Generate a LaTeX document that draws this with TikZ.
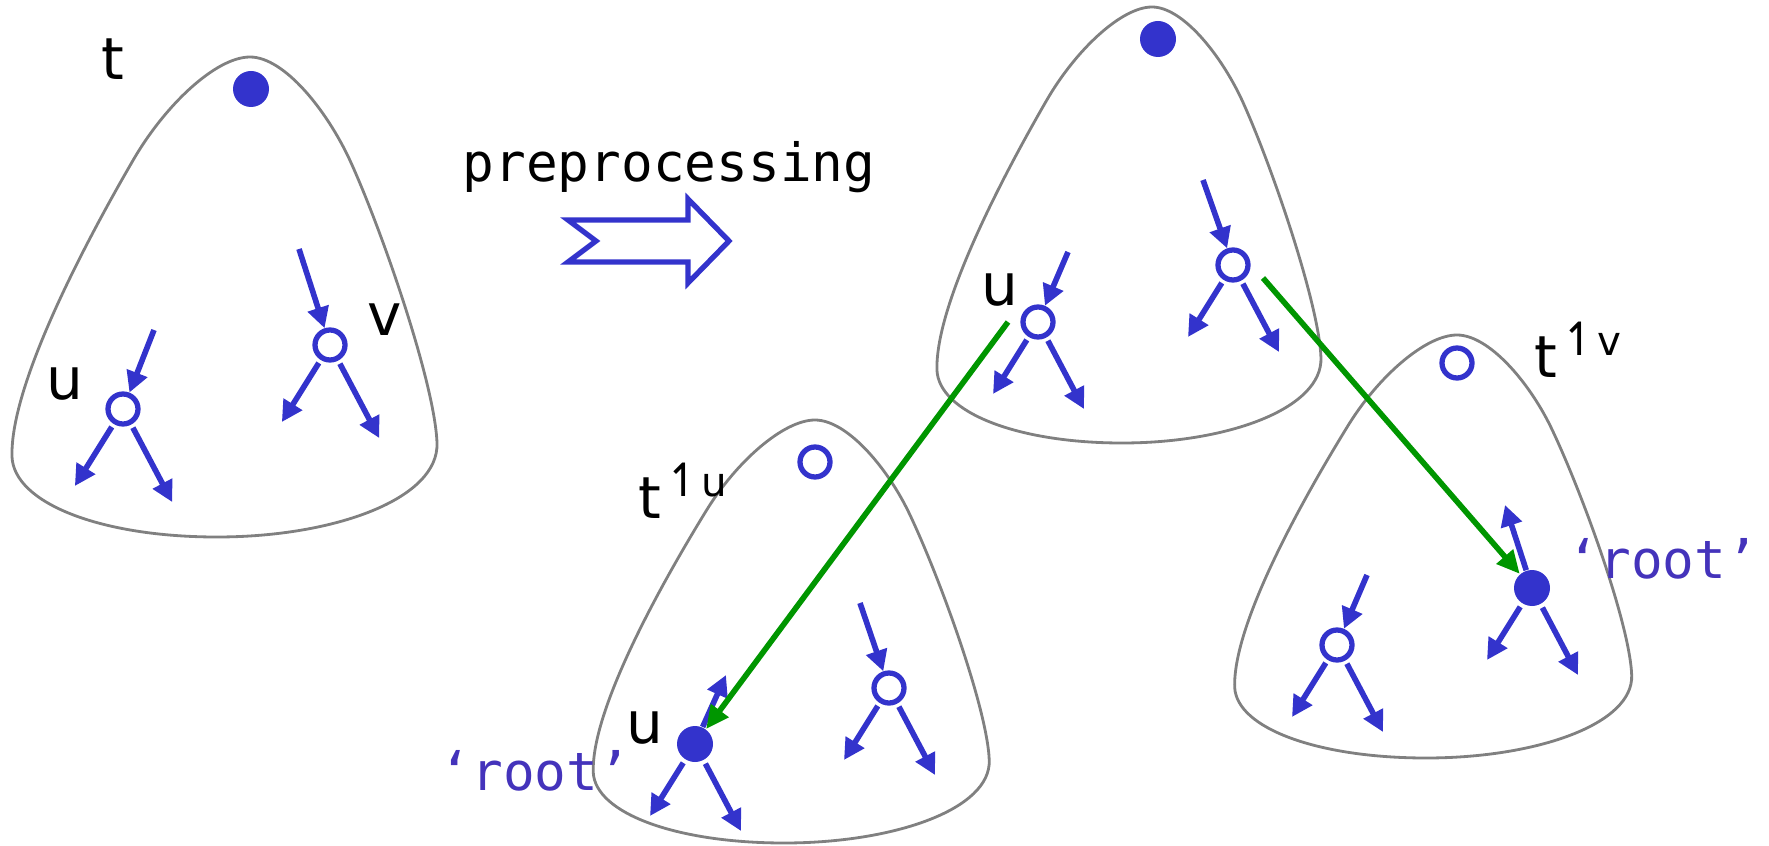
\documentclass[tikz,border=0pt]{standalone}
\usepackage{fontspec}
\newfontfamily\labfont{DejaVu Sans}
\newfontfamily\codefont{DejaVu Sans Mono}
\usetikzlibrary{arrows.meta,calc}
\definecolor{nodeblue}{RGB}{51,51,204}
\definecolor{linkgreen}{RGB}{0,150,0}
\definecolor{rootpurple}{RGB}{68,51,187}
\definecolor{outline}{RGB}{128,128,128}
\tikzset{
  blob/.style={draw=outline,line width=0.8pt},
  % rounded triangle of a (sub)tree, apex at the origin, width 1, height 1
  pics/subtree/.style={code={
    \draw[blob] (0,0) .. controls (-0.08,0) and (-0.2,0.1) .. (-0.275,0.215)
      .. controls (-0.38,0.375) and (-0.565,0.68) .. (-0.56,0.833)
      .. controls (-0.555,0.93) and (-0.35,1.0) .. (-0.078,1.0)
      .. controls (0.2,1.0) and (0.445,0.92) .. (0.44,0.804)
      .. controls (0.435,0.68) and (0.31,0.36) .. (0.235,0.215)
      .. controls (0.18,0.11) and (0.08,0) .. cycle;
  }},
  hollow/.style={circle,draw=nodeblue,line width=1.5pt,minimum size=3.0mm,inner sep=0pt},
  dot/.style={circle,fill=nodeblue,minimum size=3.6mm,inner sep=0pt},
  kid/.style={-{Triangle[length=2.1mm,width=2.1mm]},draw=nodeblue,line width=1.6pt},
  link/.style={-{Triangle[length=2.3mm,width=2.1mm]},draw=linkgreen,line width=1.6pt},
  lab/.style={font=\labfont\fontsize{16.5}{18}\selectfont,inner sep=0pt},
  rootlab/.style={font=\codefont\fontsize{15}{17}\selectfont,text=rootpurple,
    inner sep=0pt,anchor=base west},
}
\newcommand{\upsub}[1]{t\kern1pt\raisebox{6pt}{\fontsize{11.5}{12}\selectfont
  {\fontsize{13}{13}\selectfont↿}\kern-0.5pt#1}}

\begin{document}
\begin{tikzpicture}[x=1cm,y=-1cm]
  \useasboundingbox (0,0) rectangle (17.69,8.46);

  % the four trees
  \pic[xscale=4.25,yscale=4.80] at (2.50,0.57) {subtree};
  \pic[xscale=3.84,yscale=4.36] at (11.52,0.07) {subtree};
  \pic[xscale=3.96,yscale=4.23] at (8.15,4.20) {subtree};
  \pic[xscale=3.97,yscale=4.23] at (14.57,3.35) {subtree};

  \node[dot] (troot) at (2.51,0.89) {};
  \node[dot] (aroot) at (11.58,0.39) {};
  \node[hollow] (broot) at (8.15,4.62) {};
  \node[hollow] (croot) at (14.57,3.63) {};

  % inner nodes with the edge coming in
  \foreach \n/\x/\y/\dx/\dy in {
      tu/1.23/4.09/0.31/-0.79, tv/3.30/3.45/-0.31/-0.96,
      au/10.38/3.22/0.30/-0.70, av/12.33/2.65/-0.30/-0.85,
      bv/8.89/6.88/-0.29/-0.85, cu/13.37/6.45/0.30/-0.70}
  {
    \node[hollow] (\n) at (\x,\y) {};
    \coordinate (\n-in) at (\x+\dx,\y+\dy);
    \draw[kid] (\n-in) -- (\n);
  }
  % new roots, edge to the parent
  \foreach \n/\x/\y/\dx/\dy in {bu/6.95/7.44/0.31/-0.69, cv/15.32/5.88/-0.27/-0.83}
  {
    \node[dot] (\n) at (\x,\y) {};
    \coordinate (\n-up) at (\x+\dx,\y+\dy);
    \draw[kid] (\n) -- (\n-up);
  }
  % two children each
  \foreach \n/\s in {tu/1.07,tv/1.07,au/1,av/1,bu/1,bv/1,cu/1,cv/1}
  {
    \coordinate (\n-l) at ($(\n)+\s*(-0.45,0.72)$);
    \coordinate (\n-r) at ($(\n)+\s*(0.46,0.87)$);
    \draw[kid,shorten <=1pt] (\n) -- (\n-l);
    \draw[kid,shorten <=1pt] (\n) -- (\n-r);
  }

  % labels
  \node[lab,anchor=base] (tlab) at (1.13,0.80) {t};
  \node[lab,anchor=base] (tulab) at (0.65,4.00) {u};
  \node[lab,anchor=base] (tvlab) at (3.85,3.35) {v};
  \node[lab,anchor=base] (aulab) at (10.00,3.05) {u};
  \node[lab,anchor=base] (bulab) at (6.45,7.43) {u};
  \node[lab,anchor=base west] (blab) at (6.38,5.18) {\upsub{u}};
  \node[lab,anchor=base west] (clab) at (15.34,3.77) {\upsub{v}};
  \node[rootlab] (brootlab) at (4.39,7.90) {‘root’};
  \node[rootlab] (crootlab) at (15.67,5.78) {‘root’};

  % preprocessing step
  \node[font=\codefont\fontsize{15}{17}\selectfont,anchor=base west,inner sep=0pt]
    (prep) at (4.62,1.82) {preprocessing};
  \draw[nodeblue,line width=1.5pt,line join=miter] (5.68,2.20) -- (5.96,2.41)
    -- (5.68,2.62) -- (6.88,2.62) -- (6.88,2.83) -- (7.29,2.41) -- (6.88,1.99)
    -- (6.88,2.20) -- cycle;

  % green links
  \coordinate (au-g) at ($(au)+(-0.30,0)$);
  \coordinate (av-g) at ($(av)+(0.30,0.13)$);
  \draw[link] (au-g) -- (bu);
  \draw[link] (av-g) -- (cv);
\end{tikzpicture}
\end{document}
